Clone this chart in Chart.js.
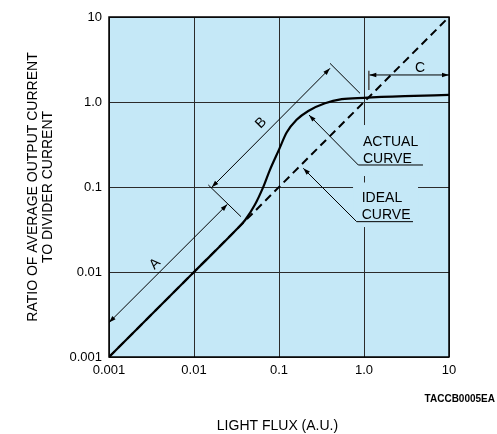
<!DOCTYPE html>
<html>
<head>
<meta charset="utf-8">
<script src="https://cdn.jsdelivr.net/npm/chart.js@4/dist/chart.umd.min.js"></script>
<style>
  html, body { margin: 0; padding: 0; background: #fff; }
  #wrap { width: 497px; height: 434px; }
</style>
</head>
<body>
<div id="wrap"><canvas id="c" width="497" height="434"></canvas></div>
<script>
// Photomultiplier output linearity: light flux vs. output/divider current ratio
const fluxTicks = [0.001, 0.01, 0.1, 1, 10];
const fluxTickLabels = ['0.001', '0.01', '0.1', '1.0', '10'];
const ratioTicks = [0.001, 0.01, 0.1, 1, 10];
const ratioTickLabels = ['0.001', '0.01', '0.1', '1.0', '10'];

// Measured (actual) curve
const actualFlux  = [0.001, 0.01, 0.032, 0.040, 0.052, 0.065, 0.078, 0.100, 0.123, 0.161, 0.221, 0.348, 0.547, 1.00, 3.00, 10];
const actualRatio = [0.001, 0.01, 0.032, 0.0409, 0.0617, 0.0989, 0.158, 0.275, 0.437, 0.617, 0.785, 0.966, 1.079, 1.12, 1.17, 1.21];

// Ideal (linear) response
const idealFlux  = [0.001, 10];
const idealRatio = [0.001, 10];

// Annotation geometry, in axis units
const notes = {
  dimA:  { from: [0.001, 0.00254], to: [0.0247, 0.0625] },
  dimB:  { from: [0.01616, 0.0991], to: [0.398, 2.49] },
  ext1:  { from: [0.01473, 0.1057], to: [0.0357, 0.0448] },
  ext2:  { from: [0.398, 2.85], to: [0.897, 1.265] },
  dimC:  { from: [1.154, 2.08], to: [10, 2.08] },
  tickC: { from: [1.14, 2.33], to: [1.14, 1.38] },
  labelA: [0.00348, 0.0124],
  labelB: [0.0614, 0.566],
  labelC: [4.56, 2.51],
  actual: { tip: [0.2254, 0.703], elbow: [0.857, 0.1815], end: 4.94,
            lines: [['ACTUAL', 0.341], ['CURVE', 0.212]], x: 0.973,
            clear: { x: [0.784, 5.97], y: [0.1346, 0.536] } },
  ideal:  { tip: [0.193, 0.166], elbow: [0.82, 0.0391], end: 3.77,
            lines: [['IDEAL', 0.0736], ['CURVE', 0.0469]], x: 0.94,
            clear: { x: [0.743, 4.32], y: [0.0338, 0.113] } }
};

const PLOT_BG = '#c5e8f7';
const FONT = '"Liberation Sans", Arial, Helvetica, sans-serif';

function toPx(chart, p) {
  return [chart.scales.x.getPixelForValue(p[0]), chart.scales.y.getPixelForValue(p[1])];
}
function seg(ctx, a, b) {
  ctx.beginPath(); ctx.moveTo(a[0], a[1]); ctx.lineTo(b[0], b[1]); ctx.stroke();
}
function head(ctx, tip, from, len = 7, half = 2.3) {
  const ang = Math.atan2(tip[1] - from[1], tip[0] - from[0]);
  const c = Math.cos(ang), s = Math.sin(ang);
  ctx.beginPath();
  ctx.moveTo(tip[0], tip[1]);
  ctx.lineTo(tip[0] - len * c + half * s, tip[1] - len * s - half * c);
  ctx.lineTo(tip[0] - len * c - half * s, tip[1] - len * s + half * c);
  ctx.closePath(); ctx.fill();
}

const decor = {
  id: 'decor',
  beforeDraw(chart) {
    const { ctx, chartArea: a } = chart;
    ctx.save();
    ctx.fillStyle = PLOT_BG;
    ctx.fillRect(a.left, a.top, a.right - a.left, a.bottom - a.top);
    ctx.restore();
  },
  beforeDatasetsDraw(chart) {
    // clear grid behind the callout text
    const { ctx } = chart;
    ctx.save();
    ctx.fillStyle = PLOT_BG;
    [notes.actual.clear, notes.ideal.clear].forEach(r => {
      const p1 = toPx(chart, [r.x[0], r.y[1]]);
      const p2 = toPx(chart, [r.x[1], r.y[0]]);
      ctx.fillRect(p1[0], p1[1], p2[0] - p1[0], p2[1] - p1[1]);
    });
    ctx.restore();
  },
  afterDatasetsDraw(chart) {
    const { ctx, chartArea: a } = chart;
    ctx.save();
    // frame
    ctx.strokeStyle = '#000';
    ctx.lineWidth = 1.5;
    ctx.strokeRect(a.left, a.top, a.right - a.left, a.bottom - a.top);

    ctx.strokeStyle = '#000';
    ctx.fillStyle = '#000';
    ctx.lineWidth = 1;

    // dimension lines with arrowheads at both ends
    [notes.dimA, notes.dimB, notes.dimC].forEach(d => {
      const p = toPx(chart, d.from), q = toPx(chart, d.to);
      seg(ctx, p, q);
      head(ctx, p, q);
      head(ctx, q, p);
    });
    // extension lines
    [notes.ext1, notes.ext2].forEach(d => seg(ctx, toPx(chart, d.from), toPx(chart, d.to)));
    ctx.save();
    ctx.strokeStyle = '#555';
    ctx.lineWidth = 1.6;
    seg(ctx, toPx(chart, notes.tickC.from), toPx(chart, notes.tickC.to));
    ctx.restore();

    // dimension letters
    ctx.font = '14px ' + FONT;
    ctx.textAlign = 'center';
    ctx.textBaseline = 'middle';
    [['A', notes.labelA], ['B', notes.labelB]].forEach(([t, pos]) => {
      const p = toPx(chart, pos);
      ctx.save();
      ctx.translate(p[0], p[1]);
      ctx.rotate(-Math.PI / 4);
      ctx.fillText(t, 0, 0);
      ctx.restore();
    });
    const pc = toPx(chart, notes.labelC);
    ctx.fillText('C', pc[0], pc[1]);

    // callouts
    [notes.actual, notes.ideal].forEach(n => {
      const tip = toPx(chart, n.tip), elbow = toPx(chart, n.elbow);
      const end = [chart.scales.x.getPixelForValue(n.end), elbow[1]];
      seg(ctx, elbow, tip);
      head(ctx, tip, elbow);
      seg(ctx, elbow, end);
      ctx.textAlign = 'left';
      ctx.textBaseline = 'middle';
      n.lines.forEach(([t, yv]) => {
        ctx.fillText(t, chart.scales.x.getPixelForValue(n.x), chart.scales.y.getPixelForValue(yv));
      });
    });
    ctx.restore();
  },
  afterDraw(chart) {
    const { ctx, chartArea: a } = chart;
    ctx.save();
    ctx.fillStyle = '#000';
    ctx.font = '14px ' + FONT;
    ctx.textAlign = 'center';
    ctx.textBaseline = 'middle';
    // y-axis title
    const cy = (a.top + a.bottom) / 2;
    ctx.save();
    ctx.translate(33, cy);
    ctx.rotate(-Math.PI / 2);
    ctx.fillText('RATIO OF AVERAGE OUTPUT CURRENT', 0, 0);
    ctx.restore();
    ctx.save();
    ctx.translate(48, cy);
    ctx.rotate(-Math.PI / 2);
    ctx.fillText('TO DIVIDER CURRENT', 0, 0);
    ctx.restore();
    // x-axis title
    ctx.fillText('LIGHT FLUX (A.U.)', 277.5, 426);
    // drawing code
    ctx.font = 'bold 10px ' + FONT;
    ctx.textAlign = 'right';
    ctx.fillText('TACCB0005EA', 495, 399);
    ctx.restore();
  }
};

function fixedTicks(values) {
  return function (scale) { scale.ticks = values.map(v => ({ value: v })); };
}

new Chart(document.getElementById('c'), {
  type: 'scatter',
  data: {
    datasets: [
      {
        label: 'IDEAL CURVE',
        data: idealFlux.map((x, i) => ({ x, y: idealRatio[i] })),
        showLine: true,
        borderColor: '#000',
        borderWidth: 2,
        borderDash: [8, 5],
        pointRadius: 0,
        fill: false
      },
      {
        label: 'ACTUAL CURVE',
        data: actualFlux.map((x, i) => ({ x, y: actualRatio[i] })),
        showLine: true,
        borderColor: '#000',
        borderWidth: 2.2,
        cubicInterpolationMode: 'monotone',
        pointRadius: 0,
        fill: false
      }
    ]
  },
  options: {
    responsive: false,
    animation: false,
    devicePixelRatio: 1,
    layout: { padding: { top: 17, right: 48, left: 0, bottom: 0 } },
    plugins: { legend: { display: false }, tooltip: { enabled: false } },
    scales: {
      x: {
        type: 'logarithmic',
        min: 0.001, max: 10,
        afterBuildTicks: fixedTicks(fluxTicks),
        afterFit(scale) { scale.height = 77; scale.paddingLeft = 0; scale.paddingRight = 0; },
        grid: { color: '#2b2b2b', lineWidth: 1, drawTicks: false },
        border: { display: false },
        ticks: {
          color: '#000', padding: 6, maxRotation: 0, autoSkip: false,
          font: { family: FONT, size: 13 },
          callback: (v) => fluxTickLabels[fluxTicks.indexOf(v)] ?? ''
        }
      },
      y: {
        type: 'logarithmic',
        min: 0.001, max: 10,
        afterBuildTicks: fixedTicks(ratioTicks),
        afterFit(scale) { scale.width = 109; scale.paddingTop = 0; scale.paddingBottom = 0; },
        grid: { color: '#2b2b2b', lineWidth: 1, drawTicks: false },
        border: { display: false },
        ticks: {
          color: '#000', padding: 7, autoSkip: false,
          font: { family: FONT, size: 13 },
          callback: (v) => ratioTickLabels[ratioTicks.indexOf(v)] ?? ''
        }
      }
    }
  },
  plugins: [decor]
});
</script>
</body>
</html>
